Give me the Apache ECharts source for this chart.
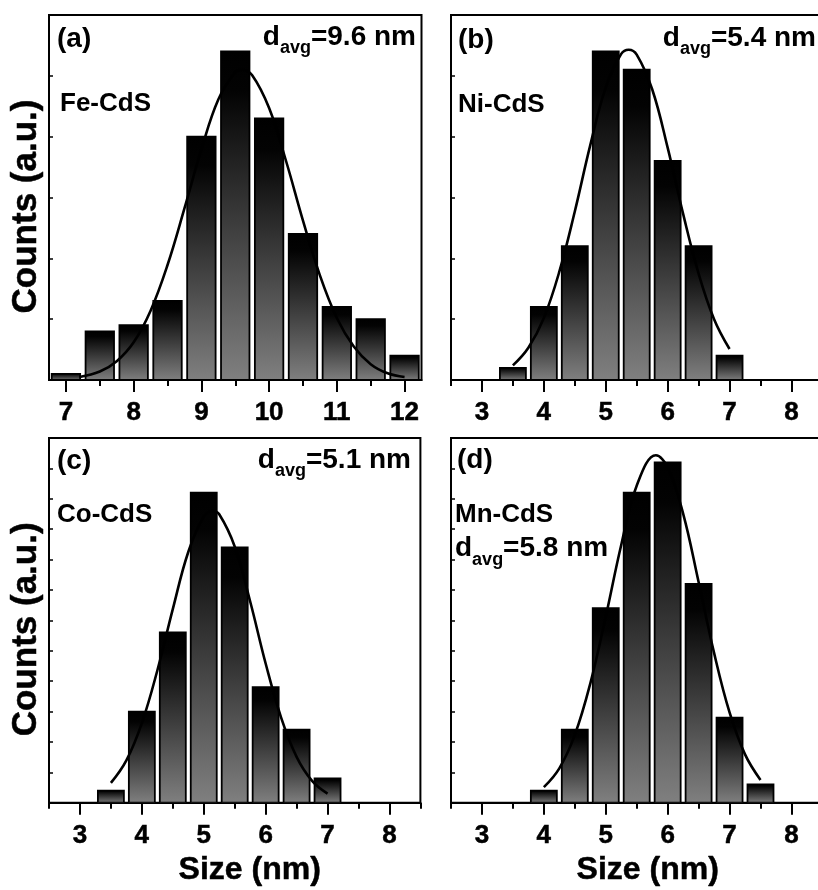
<!DOCTYPE html>
<html>
<head>
<meta charset="utf-8">
<script src="https://cdn.jsdelivr.net/npm/echarts@6/dist/echarts.min.js"></script>
<style>
html,body{margin:0;padding:0;overflow:hidden;background:#fff;}
#chart{width:830px;height:890px;}
</style>
</head>
<body>
<div id="chart"></div>
<script>
// ---------- data ----------
const sizesA  = [7, 7.5, 8, 8.5, 9, 9.5, 10, 10.5, 11, 11.5, 12];
const countsA = [0.1, 0.8, 0.9, 1.3, 4.0, 5.4, 4.3, 2.4, 1.2, 1.0, 0.4];
const fitXA   = [7.2, 7.5, 7.75, 8, 8.25, 8.5, 8.75, 9, 9.25, 9.5, 9.6, 9.75, 10, 10.25, 10.5, 10.75, 11, 11.25, 11.5, 11.75, 12];
const fitYA   = [0.05, 0.14, 0.31, 0.62, 1.14, 1.89, 2.82, 3.79, 4.61, 5.06, 5.10, 5.01, 4.47, 3.60, 2.62, 1.72, 1.02, 0.55, 0.26, 0.11, 0.05];

const sizesB  = [3.5, 4, 4.5, 5, 5.5, 6, 6.5, 7];
const countsB = [0.2, 1.2, 2.2, 5.4, 5.1, 3.6, 2.2, 0.4];
const fitXB   = [3.5, 3.75, 4, 4.25, 4.5, 4.75, 5, 5.25, 5.37, 5.5, 5.75, 6, 6.25, 6.5, 6.75, 7];
const fitYB   = [0.24, 0.53, 1.02, 1.78, 2.77, 3.86, 4.81, 5.36, 5.43, 5.35, 4.78, 3.82, 2.73, 1.75, 1.00, 0.51];

const sizesC  = [3.5, 4, 4.5, 5, 5.5, 6, 6.5, 7];
const countsC = [0.4, 3.0, 5.6, 10.2, 8.4, 3.8, 2.4, 0.8];
const fitXC   = [3.5, 3.75, 4, 4.25, 4.5, 4.75, 5, 5.14, 5.25, 5.5, 5.75, 6, 6.25, 6.5, 6.75, 7];
const fitYC   = [0.65, 1.39, 2.62, 4.35, 6.37, 8.25, 9.41, 9.60, 9.49, 8.43, 6.62, 4.58, 2.80, 1.51, 0.72, 0.30];

const sizesD  = [4, 4.5, 5, 5.5, 6, 6.5, 7, 7.5];
const countsD = [0.4, 2.4, 6.4, 10.2, 11.2, 7.2, 2.8, 0.6];
const fitXD   = [4, 4.25, 4.5, 4.75, 5, 5.25, 5.5, 5.81, 6, 6.25, 6.5, 6.75, 7, 7.25, 7.5];
const fitYD   = [0.51, 1.13, 2.23, 3.92, 6.12, 8.48, 10.43, 11.43, 11.04, 9.51, 7.26, 4.93, 2.97, 1.59, 0.75];

const majorTicksA = [7, 8, 9, 10, 11, 12];
const minorTicksA = [7.5, 8.5, 9.5, 10.5, 11.5];
const majorTicksB = [3, 4, 5, 6, 7, 8];
const minorTicksB = [2.5, 3.5, 4.5, 5.5, 6.5, 7.5, 8.5];

const panelTags   = ['(a)', '(b)', '(c)', '(d)'];
const sampleNames = ['Fe-CdS', 'Ni-CdS', 'Co-CdS', 'Mn-CdS'];
const davgValues  = ['9.6', '5.4', '5.1', '5.8'];
const xTitle = 'Size (nm)';
const yTitle = 'Counts (a.u.)';

// ---------- styling / layout ----------
const FONT = '"Liberation Sans", Arial, Helvetica, sans-serif';
const HALF = 0.21; // half bar width in axis units
const EMB = 0.5;   // slight text emboldening (axis texts)

const panels = [
  { grid: {left: 49,  top: 15,  width: 372.5, height: 365},   xMin: 6.75, xMax: 12.25, yMax: 6,
    sizes: sizesA, counts: countsA, fitX: fitXA, fitY: fitYA, major: majorTicksA, minor: minorTicksA, xName: '', yName: yTitle, xPad: 0 },
  { grid: {left: 451, top: 15,  width: 371.4, height: 365},   xMin: 2.5,  xMax: 8.5,   yMax: 6,
    sizes: sizesB, counts: countsB, fitX: fitXB, fitY: fitYB, major: majorTicksB, minor: minorTicksB, xName: '', yName: '', xPad: 0 },
  { grid: {left: 49,  top: 438, width: 371.4, height: 364.7}, xMin: 2.5,  xMax: 8.5,   yMax: 12,
    sizes: sizesC, counts: countsC, fitX: fitXC, fitY: fitYC, major: majorTicksB, minor: minorTicksB, xName: xTitle, yName: yTitle, xPad: 30 },
  { grid: {left: 451, top: 438, width: 371.4, height: 364.7}, xMin: 2.5,  xMax: 8.5,   yMax: 12,
    sizes: sizesD, counts: countsD, fitX: fitXD, fitY: fitYD, major: majorTicksB, minor: minorTicksB, xName: xTitle, yName: '', xPad: 22 }
];

const grids = [], xAxes = [], yAxes = [], series = [];
panels.forEach((p, i) => {
  grids.push(Object.assign({show: true, borderColor: '#000', borderWidth: 2, backgroundColor: 'transparent'}, p.grid));
  xAxes.push({
    type: 'value', gridIndex: i, min: p.xMin, max: p.xMax, position: 'bottom',
    axisLine: {show: true, onZero: false, lineStyle: {color: '#000', width: 2}},
    axisTick: {show: true, inside: false, length: 12, customValues: p.major, lineStyle: {color: '#000', width: 2}},
    axisLabel: {show: true, customValues: p.major, margin: 20, fontSize: 26, fontWeight: 'bold', fontFamily: FONT, color: '#000',
      textBorderColor: '#000', textBorderWidth: EMB},
    splitLine: {show: false},
    name: p.xName, nameLocation: 'middle', nameGap: 51,
    nameTextStyle: {fontSize: 32, fontWeight: 'bold', fontFamily: FONT, color: '#000', padding: [0, 0, 0, p.xPad],
      textBorderColor: '#000', textBorderWidth: EMB}
  });
  xAxes.push({
    type: 'value', gridIndex: i, min: p.xMin, max: p.xMax, position: 'bottom',
    axisLine: {show: false, onZero: false},
    axisTick: {show: true, inside: false, length: 6, customValues: p.minor, lineStyle: {color: '#000', width: 2}},
    axisLabel: {show: false},
    splitLine: {show: false}
  });
  yAxes.push({
    type: 'value', gridIndex: i, min: 0, max: p.yMax, interval: 1,
    axisLine: {show: true, lineStyle: {color: '#000', width: 2}},
    axisTick: {show: true, inside: true, length: 4, lineStyle: {color: '#000', width: 1.5}},
    axisLabel: {show: false},
    splitLine: {show: false},
    name: p.yName, nameLocation: 'middle', nameGap: 5.5,
    nameTextStyle: {fontSize: 35, fontWeight: 'bold', fontFamily: FONT, color: '#000', padding: [0, 18, 0, 0],
      textBorderColor: '#000', textBorderWidth: EMB}
  });
  series.push({
    type: 'custom', xAxisIndex: 2 * i, yAxisIndex: i, z: 2, clip: true,
    data: p.sizes.map((s, k) => [s, p.counts[k]]),
    renderItem: function (params, api) {
      const x = api.value(0), y = api.value(1);
      const p0 = api.coord([x - HALF, y]);
      const p1 = api.coord([x + HALF, 0]);
      return {
        type: 'rect',
        shape: {x: p0[0], y: p0[1], width: p1[0] - p0[0], height: p1[1] - p0[1]},
        style: {
          fill: new echarts.graphic.LinearGradient(0, 0, 0, 1, [
            {offset: 0, color: '#000000'},
            {offset: 0.12, color: '#030303'},
            {offset: 1, color: '#808080'}
          ]),
          stroke: '#000', lineWidth: 1.8
        }
      };
    }
  });
  series.push({
    type: 'line', xAxisIndex: 2 * i, yAxisIndex: i, z: 3,
    data: p.fitX.map((x, k) => [x, p.fitY[k]]),
    smooth: 0.4, showSymbol: false, symbol: 'none',
    lineStyle: {color: '#000', width: 2.6}
  });
});

function plain(x, y, text, size) {
  return {type: 'text', x: x, y: y, z: 10,
    style: {text: text, fontSize: size, fontWeight: 'bold', fontFamily: FONT, fill: '#000', align: 'left', verticalAlign: 'middle'}};
}
function davg(x, y, val, align) {
  return {type: 'text', x: x, y: y, z: 10,
    style: {
      text: '{m|d}{s|avg}{m|=' + val + ' nm}',
      align: align, verticalAlign: 'top',
      rich: {
        m: {fontSize: 28, fontWeight: 'bold', fontFamily: FONT, fill: '#000', lineHeight: 30, verticalAlign: 'top'},
        s: {fontSize: 18, fontWeight: 'bold', fontFamily: FONT, fill: '#000', lineHeight: 51}
      }
    }};
}

const graphics = [
  plain(57, 39, panelTags[0], 28),
  plain(60, 103.4, sampleNames[0], 26),
  davg(416, 23, davgValues[0], 'right'),
  plain(458, 40, panelTags[1], 28),
  plain(458, 104.7, sampleNames[1], 26),
  davg(816, 24, davgValues[1], 'right'),
  plain(57, 461.6, panelTags[2], 28),
  plain(57, 514.7, sampleNames[2], 26),
  davg(411, 446, davgValues[2], 'right'),
  plain(457, 460.3, panelTags[3], 28),
  plain(455, 515, sampleNames[3], 26),
  davg(455, 534.6, davgValues[3], 'left')
];

const chart = echarts.init(document.getElementById('chart'), null, {renderer: 'canvas', width: 830, height: 890});
chart.setOption({
  animation: false,
  backgroundColor: '#fff',
  grid: grids,
  xAxis: xAxes,
  yAxis: yAxes,
  series: series,
  graphic: graphics
});
</script>
</body>
</html>
